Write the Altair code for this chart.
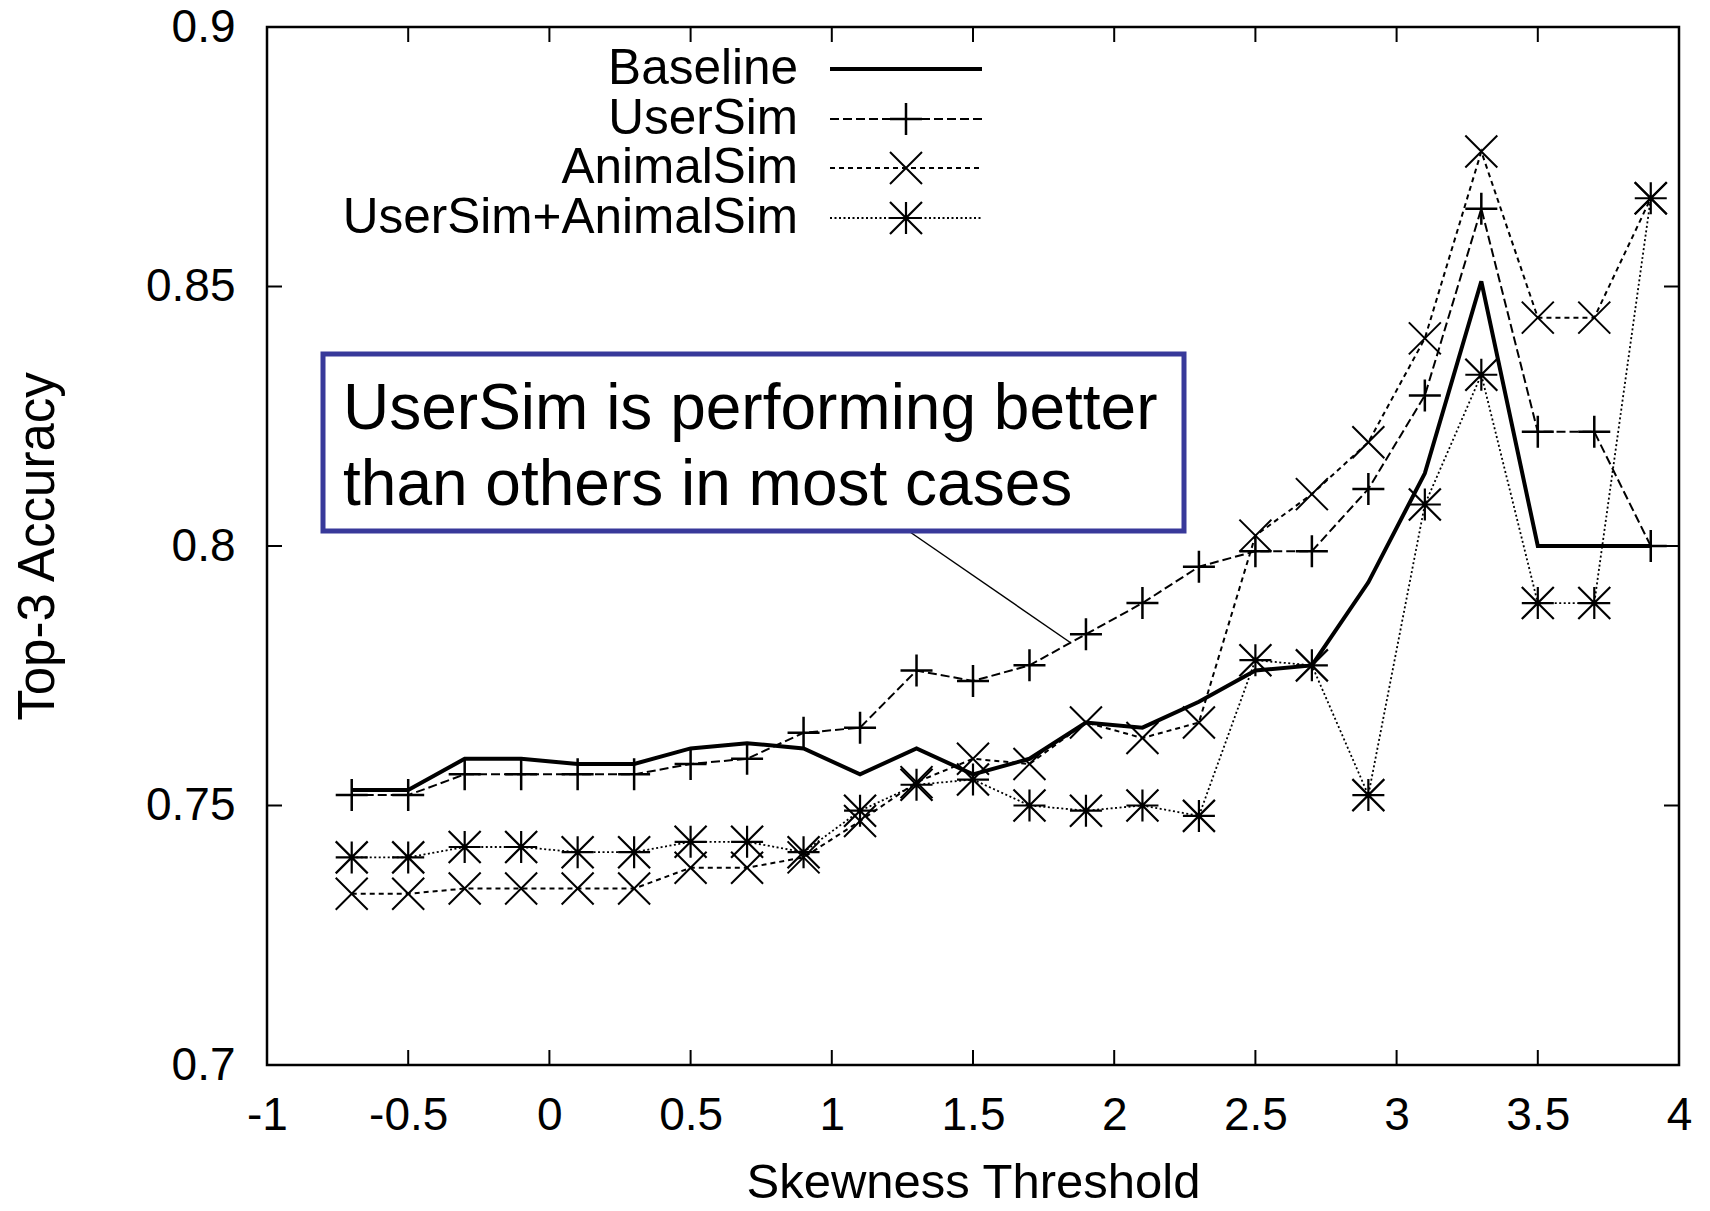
import altair as alt
import pandas as pd

# ---------------- data ----------------
x_vals = [-0.7, -0.5, -0.3, -0.1, 0.1, 0.3, 0.5, 0.7, 0.9, 1.1, 1.3, 1.5,
          1.7, 1.9, 2.1, 2.3, 2.5, 2.7, 2.9, 3.1, 3.3, 3.5, 3.7, 3.9]

baseline = [0.753, 0.753, 0.759, 0.759, 0.758, 0.758, 0.761, 0.762, 0.761, 0.756, 0.761, 0.756,
            0.759, 0.766, 0.765, 0.770, 0.776, 0.777, 0.793, 0.814, 0.851, 0.800, 0.800, 0.800]

usersim = [0.752, 0.752, 0.756, 0.756, 0.756, 0.756, 0.758, 0.759, 0.764, 0.765, 0.776, 0.774,
           0.777, 0.783, 0.789, 0.796, 0.799, 0.799, 0.811, 0.829, 0.865, 0.822, 0.822, 0.800]

animalsim = [0.733, 0.733, 0.734, 0.734, 0.734, 0.734, 0.738, 0.738, 0.740, 0.747, 0.7545, 0.759,
             0.758, 0.766, 0.763, 0.766, 0.802, 0.810, 0.820, 0.840, 0.876, 0.844, 0.844, 0.867]

combined = [0.740, 0.740, 0.742, 0.742, 0.741, 0.741, 0.743, 0.743, 0.741, 0.749, 0.754, 0.755,
            0.750, 0.749, 0.750, 0.748, 0.778, 0.777, 0.752, 0.808, 0.833, 0.789, 0.789, 0.867]

series_names = ["Baseline", "UserSim", "AnimalSim", "UserSim+AnimalSim"]
series_values = [baseline, usersim, animalsim, combined]

x_ticks = [-1, -0.5, 0, 0.5, 1, 1.5, 2, 2.5, 3, 3.5, 4]
y_ticks = [0.7, 0.75, 0.8, 0.85, 0.9]

x_title = "Skewness Threshold"
y_title = "Top-3 Accuracy"
note_lines = ["UserSim is performing better", "than others in most cases"]

rows = []
for name, vals in zip(series_names, series_values):
    for xv, v in zip(x_vals, vals):
        rows.append({"x": xv, "acc": v, "series": name})
df = pd.DataFrame(rows)

# ---------------- styling ----------------
W, H = 1412, 1038
FONT = "Liberation Sans"
FS = 46
LEG_FS = 49.5

PLUS = "M-1,0L1,0M0,-1L0,1"
CROSS = "M-1,-1L1,1M-1,1L1,-1"
STAR = PLUS + CROSS

styles = {
    "Baseline": dict(width=4, dash=None, shape=None, msw=0),
    "UserSim": dict(width=2, dash=[9, 4], shape=PLUS, msw=2.5),
    "AnimalSim": dict(width=2, dash=[5, 4], shape=CROSS, msw=2),
    "UserSim+AnimalSim": dict(width=1.8, dash=[2, 2.5], shape=STAR, msw=2.2),
}

xscale = alt.Scale(domain=[-1, 4], nice=False, zero=False)
yscale = alt.Scale(domain=[0.7, 0.9], nice=False, zero=False)

xaxis = alt.Axis(values=x_ticks, labelExpr="datum.value + ''", title=x_title,
                 grid=False, domain=False, ticks=False, tickSize=0,
                 labelFontSize=FS, labelPadding=28, labelFlush=False, labelOverlap=False,
                 labelColor="black", labelFont=FONT,
                 titleFontSize=49, titleFontWeight="normal", titleFont=FONT, titleColor="black",
                 titleX=706, titleY=117, titleBaseline="middle", titleAlign="center")

yaxis = alt.Axis(values=y_ticks, labelExpr="datum.value + ''", title=y_title,
                 grid=False, domain=False, ticks=False, tickSize=0,
                 labelFontSize=FS, labelPadding=32, labelFlush=False, labelOverlap=False,
                 labelColor="black", labelFont=FONT,
                 titleFontSize=51, titleFontWeight="normal", titleFont=FONT, titleColor="black",
                 titleX=-229, titleY=519, titleAngle=270, titleBaseline="middle", titleAlign="center")

X = alt.X("x:Q", scale=xscale, axis=xaxis)
Y = alt.Y("acc:Q", scale=yscale, axis=yaxis)

layers = []

# inward ticks on all four sides (gnuplot style)
TL = 15
xt = alt.Data(values=[{"t": v} for v in x_ticks])
yt = alt.Data(values=[{"t": v} for v in y_ticks])
tx = alt.X("t:Q", scale=xscale, axis=xaxis)
ty = alt.Y("t:Q", scale=yscale, axis=yaxis)
layers.append(alt.Chart(xt).mark_rule(color="black", strokeWidth=2).encode(
    x=tx, y=alt.value(H), y2=alt.value(H - TL)))
layers.append(alt.Chart(xt).mark_rule(color="black", strokeWidth=2).encode(
    x=tx, y=alt.value(0), y2=alt.value(TL)))
layers.append(alt.Chart(yt).mark_rule(color="black", strokeWidth=2).encode(
    y=ty, x=alt.value(0), x2=alt.value(TL)))
layers.append(alt.Chart(yt).mark_rule(color="black", strokeWidth=2).encode(
    y=ty, x=alt.value(W), x2=alt.value(W - TL)))

# series
for name in series_names:
    s = styles[name]
    base = alt.Chart(df).transform_filter(alt.datum.series == name)
    line_kw = dict(color="black", strokeWidth=s["width"])
    if s["dash"]:
        line_kw["strokeDash"] = s["dash"]
    layers.append(base.mark_line(**line_kw).encode(x=X, y=Y))
    if s["shape"]:
        layers.append(base.mark_point(shape=s["shape"], filled=False, size=1024,
                                      color="black", strokeWidth=s["msw"], opacity=1)
                      .encode(x=X, y=Y))

# annotation box
one = alt.Data(values=[{}])
layers.append(alt.Chart(one).mark_rule(color="black", strokeWidth=1.5).encode(
    x=alt.value(643), y=alt.value(505), x2=alt.value(804), y2=alt.value(616)))
layers.append(alt.Chart(one).mark_rect(fill="white", stroke="#38399a", strokeWidth=5).encode(
    x=alt.value(56), x2=alt.value(917), y=alt.value(327), y2=alt.value(504)))
for i, txt in enumerate(note_lines):
    layers.append(alt.Chart(one).mark_text(align="left", baseline="alphabetic", fontSize=64,
                                           font=FONT, color="black").encode(
        x=alt.value(76), y=alt.value(402 + 76 * i), text=alt.value(txt)))

# legend (gnuplot style: label on left, sample on right)
legend_y = [42, 92, 141, 191]
for name, ly in zip(series_names, legend_y):
    s = styles[name]
    layers.append(alt.Chart(one).mark_text(align="right", baseline="middle", fontSize=LEG_FS,
                                           font=FONT, color="black").encode(
        x=alt.value(531), y=alt.value(ly), text=alt.value(name)))
    rule_kw = dict(color="black", strokeWidth=s["width"])
    if s["dash"]:
        rule_kw["strokeDash"] = s["dash"]
    layers.append(alt.Chart(one).mark_rule(**rule_kw).encode(
        x=alt.value(563), x2=alt.value(715), y=alt.value(ly)))
    if s["shape"]:
        layers.append(alt.Chart(one).mark_point(shape=s["shape"], filled=False, size=1024,
                                                color="black", strokeWidth=s["msw"], opacity=1)
                      .encode(x=alt.value(639), y=alt.value(ly)))

chart = (
    alt.layer(*layers)
    .properties(width=W, height=H,
                autosize=alt.AutoSizeParams(type="none"),
                padding={"left": 259, "top": 19, "right": 23, "bottom": 138})
    .configure(font=FONT)
    .configure_view(stroke="black", strokeWidth=2.5)
)

chart.save("out.html", embed_options={"renderer": "svg", "actions": False})
